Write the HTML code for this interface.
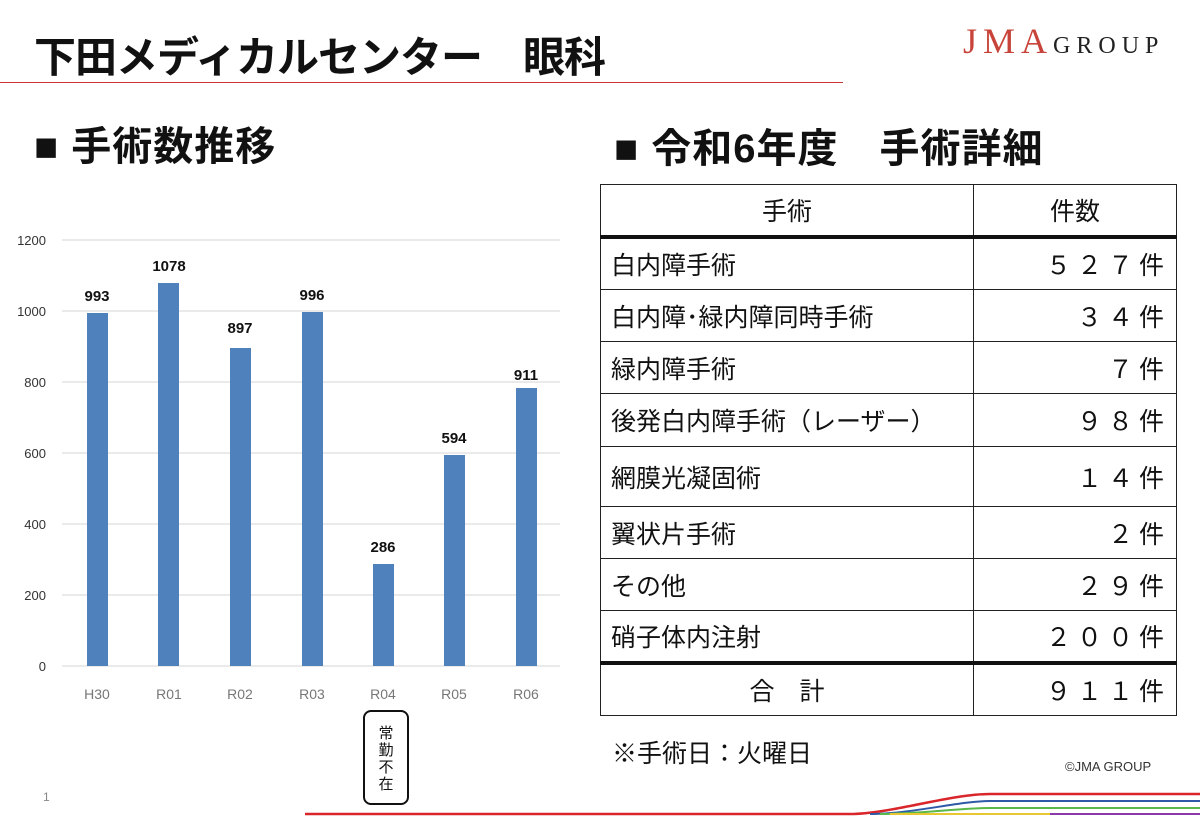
<!DOCTYPE html>
<html><head><meta charset="utf-8"><style>
body{margin:0;width:1200px;height:831px;background:#fff;position:relative;overflow:hidden;font-family:"Liberation Sans","Noto Sans CJK JP",sans-serif;}
.a{position:absolute;}
table{border-collapse:collapse;position:absolute;left:600px;top:184px;width:577px;font-size:25px;color:#111;}
td{border:1.5px solid #222;padding:0 10px;}
td.n{text-align:right;letter-spacing:6px;padding-right:6px;}
</style></head><body>
<div class="a" style="left:34px;top:24px;font-size:42px;font-weight:bold;color:#111;letter-spacing:-1px;">下田メディカルセンター　眼科</div>
<div class="a" style="left:0;top:82px;width:843px;height:1px;background:#c33;"></div>
<div class="a" style="left:963px;top:20px;font-family:'Liberation Serif',serif;font-size:36px;color:#c8443a;letter-spacing:6px;">JMA<span style="font-size:24px;color:#222;letter-spacing:6px;margin-left:0px;">GROUP</span></div>
<div class="a" style="left:34px;top:114px;font-size:40px;font-weight:bold;color:#111;letter-spacing:1px;">■ 手術数推移</div>
<div class="a" style="left:614px;top:116px;font-size:40px;font-weight:bold;color:#111;letter-spacing:1px;">■ 令和6年度　手術詳細</div>
<svg class="a" style="left:0;top:0" width="600" height="831">
<g stroke="#e3e3e3" stroke-width="1.5">
<line x1="62" x2="560" y1="240" y2="240"/><line x1="62" x2="560" y1="311" y2="311"/><line x1="62" x2="560" y1="382" y2="382"/><line x1="62" x2="560" y1="453" y2="453"/><line x1="62" x2="560" y1="524" y2="524"/><line x1="62" x2="560" y1="595" y2="595"/><line x1="62" x2="560" y1="666" y2="666"/></g>
<g font-size="13" fill="#333" text-anchor="end">
<text x="46" y="245">1200</text><text x="46" y="316">1000</text><text x="46" y="387">800</text><text x="46" y="458">600</text><text x="46" y="529">400</text><text x="46" y="600">200</text><text x="46" y="671">0</text></g>
<g fill="#4f81bd">
<rect x="87" y="313" width="21" height="353"/><rect x="158" y="283" width="21" height="383"/><rect x="230" y="348" width="21" height="318"/><rect x="302" y="312" width="21" height="354"/><rect x="373" y="564" width="21" height="102"/><rect x="444" y="455" width="21" height="211"/><rect x="516" y="388" width="21" height="278"/></g>
<g font-size="15" font-weight="bold" fill="#111" text-anchor="middle">
<text x="97" y="301">993</text><text x="169" y="271">1078</text><text x="240" y="333">897</text><text x="312" y="300">996</text><text x="383" y="552">286</text><text x="454" y="443">594</text><text x="526" y="380">911</text></g>
<g font-size="14" fill="#777" text-anchor="middle">
<text x="97" y="699">H30</text><text x="169" y="699">R01</text><text x="240" y="699">R02</text><text x="312" y="699">R03</text><text x="383" y="699">R04</text><text x="454" y="699">R05</text><text x="526" y="699">R06</text></g>
<rect x="364" y="711" width="44" height="93" rx="7" fill="#fff" stroke="#111" stroke-width="2"/>
<g font-size="15" fill="#111" text-anchor="middle"><text x="386" y="738">常</text><text x="386" y="755">勤</text><text x="386" y="772">不</text><text x="386" y="789">在</text></g>
<text x="43" y="801" font-size="12" fill="#888">1</text>
</svg>
<table>
<tr style="height:52px"><td style="text-align:center;width:352px">手術</td><td style="text-align:center">件数</td></tr>
<tr style="height:53px;border-top:4px solid #111"><td>白内障手術</td><td class="n">５２７件</td></tr>
<tr style="height:52px"><td>白内障･緑内障同時手術</td><td class="n">３４件</td></tr>
<tr style="height:52px"><td>緑内障手術</td><td class="n">７件</td></tr>
<tr style="height:53px"><td>後発白内障手術（レーザー）</td><td class="n">９８件</td></tr>
<tr style="height:60px"><td>網膜光凝固術</td><td class="n">１４件</td></tr>
<tr style="height:52px"><td>翼状片手術</td><td class="n">２件</td></tr>
<tr style="height:52px"><td>その他</td><td class="n">２９件</td></tr>
<tr style="height:52px"><td>硝子体内注射</td><td class="n">２００件</td></tr>
<tr style="height:53px;border-top:4px solid #111"><td style="text-align:center">合　計</td><td class="n">９１１件</td></tr>
</table>
<div class="a" style="left:612px;top:734px;font-size:25px;color:#111;">※手術日：火曜日</div>
<div class="a" style="left:1065px;top:759px;font-size:13px;color:#333;">©JMA GROUP</div>
<svg class="a" style="left:0;top:780px" width="1200" height="51">
<path d="M305 34 L850 34 C890 34 950 14 990 14 L1200 14" fill="none" stroke="#d9262a" stroke-width="2.5"/>
<path d="M870 34 C910 34 960 21 990 21 L1200 21" fill="none" stroke="#2e5aa8" stroke-width="2"/>
<path d="M880 34 C920 34 960 28 990 28 L1200 28" fill="none" stroke="#5ab848" stroke-width="2"/>
<path d="M890 34 L1200 34" fill="none" stroke="#e8c830" stroke-width="2"/>
<path d="M1050 34 L1200 34" fill="none" stroke="#8a3aa8" stroke-width="2"/>
</svg>
</body></html>
